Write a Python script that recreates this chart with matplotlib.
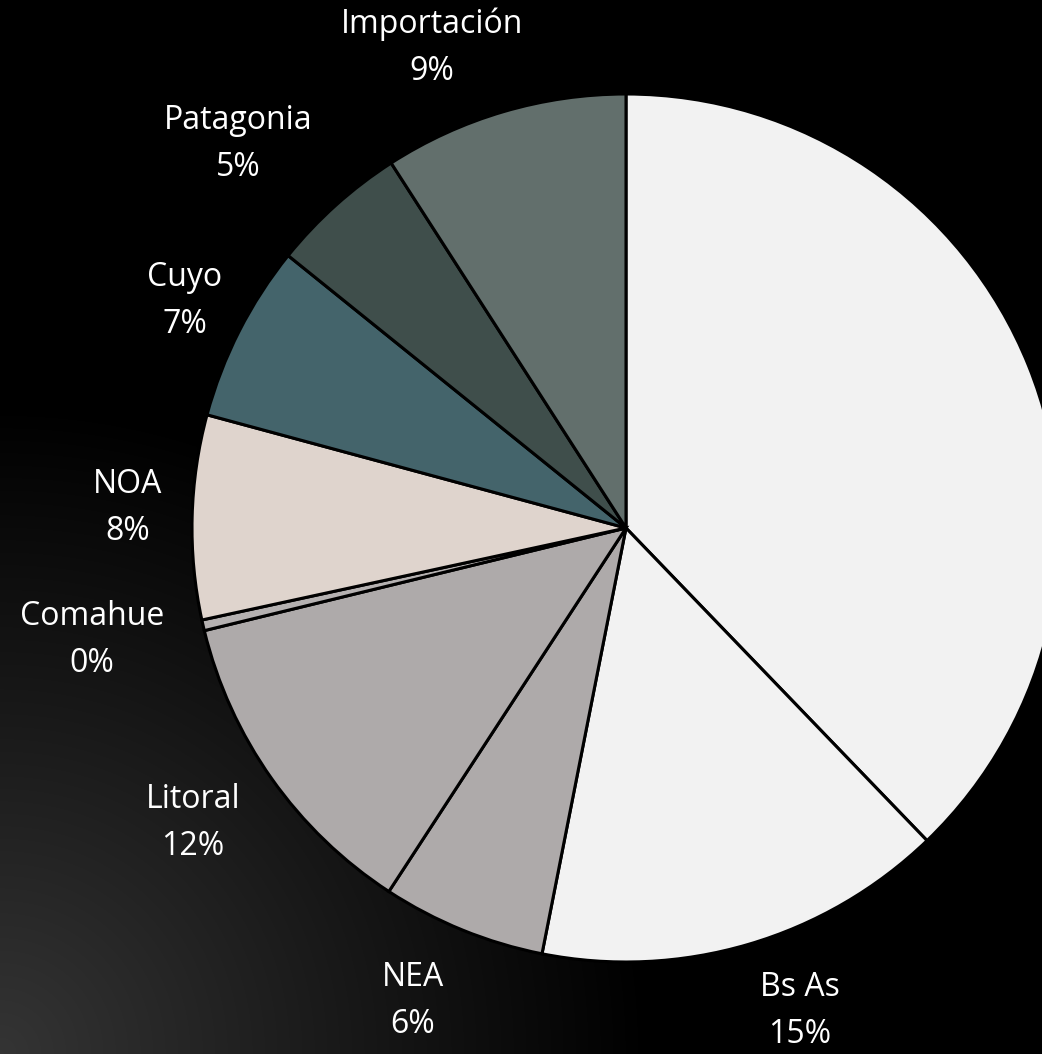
import numpy as np
import matplotlib
matplotlib.use("Agg")
import matplotlib.pyplot as plt

# ---- data ----
categories = ["", "Bs As", "NEA", "Litoral", "Comahue", "NOA", "Cuyo", "Patagonia", "Importación"]
values = [37.8, 15.3, 6.1, 12.0, 0.4, 7.6, 6.6, 5.1, 9.1]
colors = ["#F2F2F2", "#F2F2F2", "#AEAAAA", "#AEAAAA", "#B5B1B1",
          "#DFD4CD", "#44646B", "#3F4E4B", "#626F6C"]

# label anchor positions (pixel coords from top-left, centre of two-line block)
label_pos = [None, (800, 1011), (413, 1001), (193, 823), (92, 640),
             (128, 508), (185, 301), (238, 144), (432, 48)]

W, H = 1042, 1054
fig = plt.figure(figsize=(W / 100, H / 100), dpi=100)
ax = fig.add_axes([0, 0, 1, 1])
ax.set_xlim(0, W)
ax.set_ylim(0, H)
ax.axis("off")

# background radial gradient from bottom-left corner
yy, xx = np.mgrid[0:H, 0:W]
d = np.hypot(xx - 0, yy - 0)  # y-up coords; bottom-left at (0,0)
g = np.clip(0.205 * (1 - d / 650.0), 0, 1)
bg = np.dstack([g, g, g])
ax.imshow(bg, extent=(0, W, 0, H), origin="lower", zorder=0, aspect="auto")

cx, cy, r = 626, H - 528, 434
wedges, _ = ax.pie(values, colors=colors, startangle=90, counterclock=False,
                   center=(cx, cy), radius=r, frame=True,
                   wedgeprops=dict(edgecolor="black", linewidth=2.2))
for w in wedges:
    w.set_zorder(2)
ax.set_xlim(0, W)
ax.set_ylim(0, H)
ax.set_aspect("equal")
ax.axis("off")

total = sum(values)
fp = dict(color="white", fontsize=23, family=["Open Sans", "DejaVu Sans"],
          ha="center", va="center", zorder=3)
for name, v, pos in zip(categories, values, label_pos):
    if pos is None:
        continue
    x, y = pos
    ax.text(x, H - (y - 23.5), name, **fp)
    ax.text(x, H - (y + 23.5), f"{round(100 * v / total):.0f}%", **fp)

fig.savefig("out.png", dpi=100, facecolor="black")
